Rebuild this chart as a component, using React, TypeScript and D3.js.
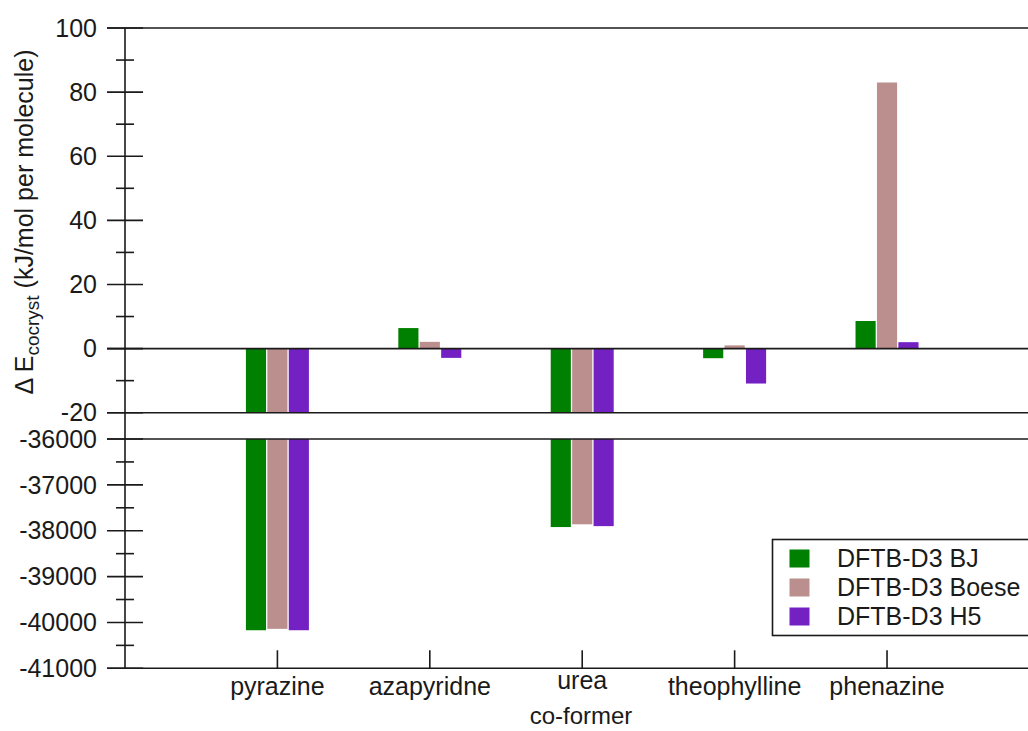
import React from "react";
import * as d3 from "d3";

const categories = ["pyrazine", "azapyridne", "urea", "theophylline", "phenazine"];
const seriesNames = ["DFTB-D3 BJ", "DFTB-D3 Boese", "DFTB-D3 H5"];
const bjValues = [-40170, 6.4, -37920, -3.0, 8.6];
const boeseValues = [-40140, 2.1, -37860, 1.0, 83.0];
const h5Values = [-40170, -2.9, -37900, -10.9, 2.0];
const upperTicks = [-20, 0, 20, 40, 60, 80, 100];
const upperMinor = [-10, 10, 30, 50, 70, 90];
const lowerTicks = [-41000, -40000, -39000, -38000, -37000, -36000];
const lowerMinor = [-40500, -39500, -38500, -37500, -36500];

const seriesValues = [bjValues, boeseValues, h5Values];
const colors = ["#008000", "#bc8f8f", "#7421c4"];
const labelShift: Record<string, number> = { urea: -6 };

const W = 1028;
const H = 731;
const axisX = 125;
const font = "'Liberation Sans', Arial, Helvetica, sans-serif";
const ink = "#1a1a1a";

export default function App() {
  const x = d3.scaleLinear().domain([-1, 4.925]).range([axisX, W]);
  const yU = d3.scaleLinear().domain([-20, 100]).range([412.7, 28]);
  const yL = d3.scaleLinear().domain([-41000, -36000]).range([668.3, 439]);
  const band = d3.scaleBand<string>().domain(seriesNames).range([-31.5, 31.5]).paddingInner(0.06);

  const bars: JSX.Element[] = [];
  categories.forEach((c, i) => {
    seriesNames.forEach((s, j) => {
      const v = seriesValues[j][i];
      const bx = x(i) + (band(s) as number);
      const bw = band.bandwidth();
      const vu = Math.max(-20, Math.min(100, v));
      const y0 = yU(0);
      const y1 = yU(vu);
      bars.push(
        <rect key={`u-${i}-${j}`} x={bx} y={Math.min(y0, y1)} width={bw} height={Math.abs(y1 - y0)} fill={colors[j]} />
      );
      if (v < -36000) {
        const t = yL(-36000);
        const b = yL(Math.max(-41000, v));
        bars.push(<rect key={`l-${i}-${j}`} x={bx} y={t} width={bw} height={b - t} fill={colors[j]} />);
      }
    });
  });

  const fullLines = [yU(100), yU(0), yU(-20), yL(-36000), yL(-41000)];

  return (
    <div style={{ position: "fixed", left: 0, top: 0 }}>
      <svg width={W} height={H} style={{ display: "block", background: "#fff" }}>
        {bars}
        {fullLines.map((y, k) => (
          <line key={`fl${k}`} x1={107} x2={W} y1={y} y2={y} stroke={ink} strokeWidth={1.6} />
        ))}
        <line x1={axisX} x2={axisX} y1={yU(100)} y2={yL(-41000)} stroke={ink} strokeWidth={1.6} />
        {upperTicks.map((t) => (
          <g key={`ut${t}`}>
            <line x1={107} x2={143} y1={yU(t)} y2={yU(t)} stroke={ink} strokeWidth={1.6} />
            <text x={97} y={yU(t)} dy="0.35em" textAnchor="end" fontSize={25} fontFamily={font} fill={ink}>
              {t}
            </text>
          </g>
        ))}
        {upperMinor.map((t) => (
          <line key={`um${t}`} x1={116} x2={134} y1={yU(t)} y2={yU(t)} stroke={ink} strokeWidth={1.6} />
        ))}
        {lowerTicks.map((t) => (
          <g key={`lt${t}`}>
            <line x1={107} x2={143} y1={yL(t)} y2={yL(t)} stroke={ink} strokeWidth={1.6} />
            <text x={97} y={yL(t)} dy="0.35em" textAnchor="end" fontSize={25} fontFamily={font} fill={ink}>
              {t}
            </text>
          </g>
        ))}
        {lowerMinor.map((t) => (
          <line key={`lm${t}`} x1={116} x2={134} y1={yL(t)} y2={yL(t)} stroke={ink} strokeWidth={1.6} />
        ))}
        {categories.map((c, i) => (
          <g key={`c${c}`}>
            <line x1={x(i)} x2={x(i)} y1={yL(-41000)} y2={yL(-41000) - 18} stroke={ink} strokeWidth={1.6} />
            <text x={x(i)} y={695 + (labelShift[c] || 0)} textAnchor="middle" fontSize={25} fontFamily={font} fill={ink}>
              {c}
            </text>
          </g>
        ))}
        <text x={581} y={724} textAnchor="middle" fontSize={24} fontFamily={font} fill={ink}>
          co-former
        </text>
        <text transform={`translate(33,222) rotate(-90)`} textAnchor="middle" fontSize={25} fontFamily={font} fill={ink}>
          <tspan>Δ E</tspan>
          <tspan fontSize={19} dy={6}>cocryst</tspan>
          <tspan dy={-6}> (kJ/mol per molecule)</tspan>
        </text>
        <rect x={772.5} y={539.5} width={320} height={96} fill="#fff" stroke={ink} strokeWidth={1.6} />
        {seriesNames.map((s, j) => (
          <g key={`lg${s}`}>
            <rect x={789.5} y={549.5 + j * 29} width={20} height={18} fill={colors[j]} />
            <text x={837} y={566.5 + j * 29} fontSize={25} fontFamily={font} fill={ink}>
              {s}
            </text>
          </g>
        ))}
      </svg>
    </div>
  );
}
